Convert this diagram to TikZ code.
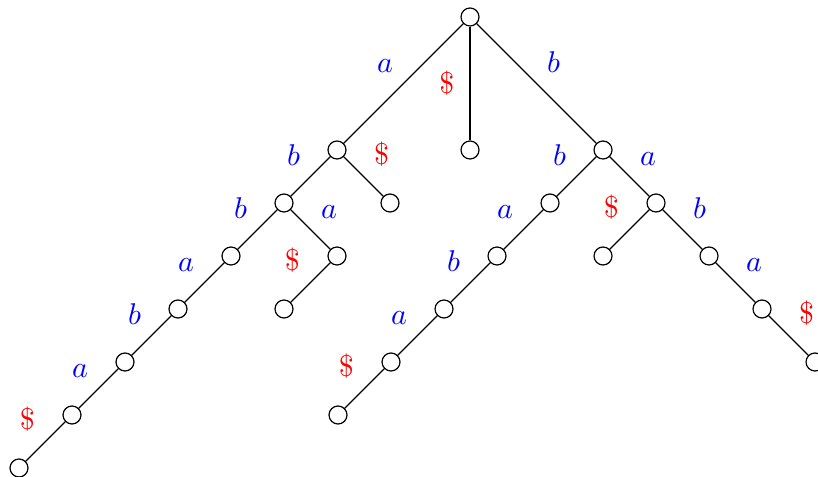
\documentclass[tikz,border=0pt]{standalone}
\begin{document}
\begin{tikzpicture}[x=0.33333pt,y=-0.33333pt,
  v/.style={circle,draw,fill=white,inner sep=0pt,minimum size=6pt,line width=0.4pt},
  e/.style={line width=0.4pt},
  la/.style={blue},
  ld/.style={red}]
\useasboundingbox (0,0) rectangle (818,477);
% nodes
\node[v] (r) at (470,17) {};
\node[v] (A) at (337,150) {};
\node[v] (D) at (470,150) {};
\node[v] (B) at (603,150) {};
\node[v] (Ab) at (284,203) {};
\node[v] (Ad) at (390,203) {};
\node[v] (Abb) at (231,256) {};
\node[v] (Aba) at (337,256) {};
\node[v] (Abad) at (284,309) {};
\node[v] (L1) at (178,309) {};
\node[v] (L2) at (125,362) {};
\node[v] (L3) at (72,415) {};
\node[v] (L4) at (19,468) {};
\node[v] (Bb) at (550,203) {};
\node[v] (Ba) at (656,203) {};
\node[v] (M1) at (497,256) {};
\node[v] (M2) at (444,309) {};
\node[v] (M3) at (391,362) {};
\node[v] (M4) at (338,415) {};
\node[v] (Bad) at (603,256) {};
\node[v] (Bab) at (709,256) {};
\node[v] (R1) at (762,309) {};
\node[v] (R2) at (815,362) {};
% edges
\draw[e] (r) -- node[above left,la]{$a$} (A);
\draw[e] (r) -- node[left,ld,xshift=-1.7pt]{\$} (D);
\draw[e] (r) -- node[above right,la]{$b$} (B);
\draw[e] (A) -- node[above left,la]{$b$} (Ab);
\draw[e] (A) -- node[above right,ld]{\$} (Ad);
\draw[e] (Ab) -- node[above left,la]{$b$} (Abb);
\draw[e] (Ab) -- node[above right,la]{$a$} (Aba);
\draw[e] (Aba) -- node[above left,ld]{\$} (Abad);
\draw[e] (Abb) -- node[above left,la]{$a$} (L1);
\draw[e] (L1) -- node[above left,la]{$b$} (L2);
\draw[e] (L2) -- node[above left,la]{$a$} (L3);
\draw[e] (L3) -- node[above left,ld]{\$} (L4);
\draw[e] (B) -- node[above left,la]{$b$} (Bb);
\draw[e] (B) -- node[above right,la]{$a$} (Ba);
\draw[e] (Bb) -- node[above left,la]{$a$} (M1);
\draw[e] (M1) -- node[above left,la]{$b$} (M2);
\draw[e] (M2) -- node[above left,la]{$a$} (M3);
\draw[e] (M3) -- node[above left,ld]{\$} (M4);
\draw[e] (Ba) -- node[above left,ld]{\$} (Bad);
\draw[e] (Ba) -- node[above right,la]{$b$} (Bab);
\draw[e] (Bab) -- node[above right,la]{$a$} (R1);
\draw[e] (R1) -- node[above right,ld]{\$} (R2);
\end{tikzpicture}
\end{document}
